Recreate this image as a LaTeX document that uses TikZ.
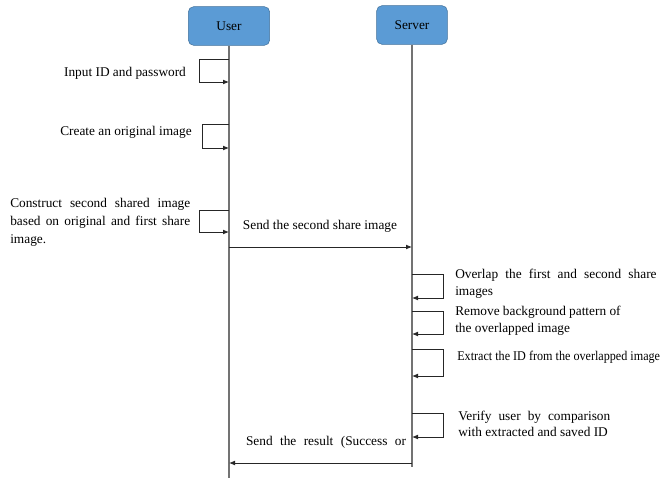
\documentclass[tikz,border=0pt]{standalone}
\usepackage{fontspec}
\setmainfont{Liberation Serif}
\usetikzlibrary{arrows.meta}
\definecolor{actorfill}{HTML}{5B9BD5}
\definecolor{actordraw}{HTML}{41719C}
\tikzset{
  actor/.style={draw=actordraw, fill=actorfill, rounded corners=4pt, minimum height=29pt, font=\fontsize{10}{12}\selectfont},
  lifeline/.style={draw=black!55, line width=0.8pt},
  call/.style={draw=black!85, line width=0.6pt, ->},
  note/.style={font=\fontsize{10}{12.5}\selectfont, inner sep=0pt, align=left}
}
\begin{document}
\begin{tikzpicture}[x=0.75pt,y=-0.75pt,>={Latex[length=4.5pt,width=3.6pt]}]
  \useasboundingbox (0,0) rectangle (664,478);
  \node[actor, minimum width=61pt] (u) at (229,26) {User}; \node[actor, minimum width=53pt] (s) at (412,25) {Server};
  \coordinate (ue) at (229,478); \coordinate (se) at (412,467);
  \draw[lifeline] (u) -- (ue); \draw[lifeline] (s) -- (se);
  \coordinate (u1) at (229,59); \coordinate (u1') at (229,82);
  \coordinate (u2) at (229,124); \coordinate (u2') at (229,148);
  \coordinate (u3) at (229,210); \coordinate (u3') at (229,232);
  \draw[call] (u1) -- ++(-30,0) |- (u1'); \draw[call] (u2) -- ++(-27,0) |- (u2'); \draw[call] (u3) -- ++(-30,0) |- (u3');
  \node[note] (t1) at (125,73) {Input ID and password};
  \node[note] (t2) at (126,132) {Create an original image};
  \node[note, anchor=west, font=\fontsize{10}{13.5}\selectfont] (t3) at (10,222) {\makebox[135pt][s]{Construct second shared image}\\\makebox[135pt][s]{based on original and first share}\\image.};
  \coordinate (m1) at (229,247); \coordinate (m1') at (412,247);
  \draw[call] (m1) -- (m1'); \node[note] (t4) at (320,226) {Send the second share image};
  \coordinate (s1) at (412,274); \coordinate (s1') at (412,298);
  \coordinate (s2) at (412,311); \coordinate (s2') at (412,334);
  \coordinate (s3) at (412,349); \coordinate (s3') at (412,376);
  \coordinate (s4) at (412,413); \coordinate (s4') at (412,437);
  \draw[call] (s1) -- ++(31,0) |- (s1'); \draw[call] (s2) -- ++(31,0) |- (s2');
  \draw[call] (s3) -- ++(31,0) |- (s3'); \draw[call] (s4) -- ++(31,0) |- (s4');
  \node[note, anchor=west] (t5) at (455,284) {\makebox[151pt][s]{Overlap the first and second share}\\images};
  \node[note, anchor=west] (t6) at (455,321) {\makebox[124pt][s]{Remove background pattern of}\\the overlapped image};
  \node[note, anchor=west] (t7) at (457,357) {\scalebox{0.91}[1]{Extract the ID from the overlapped image}};
  \node[note, anchor=west] (t8) at (458,424) {\makebox[114pt][s]{Verify user by comparison}\\with extracted and saved ID};
  \coordinate (m2) at (412,463); \coordinate (m2') at (229,463);
  \draw[call] (m2) -- (m2'); \node[note] (t9) at (326,442) {\makebox[120pt][s]{Send the result (Success or}};
\end{tikzpicture}
\end{document}
